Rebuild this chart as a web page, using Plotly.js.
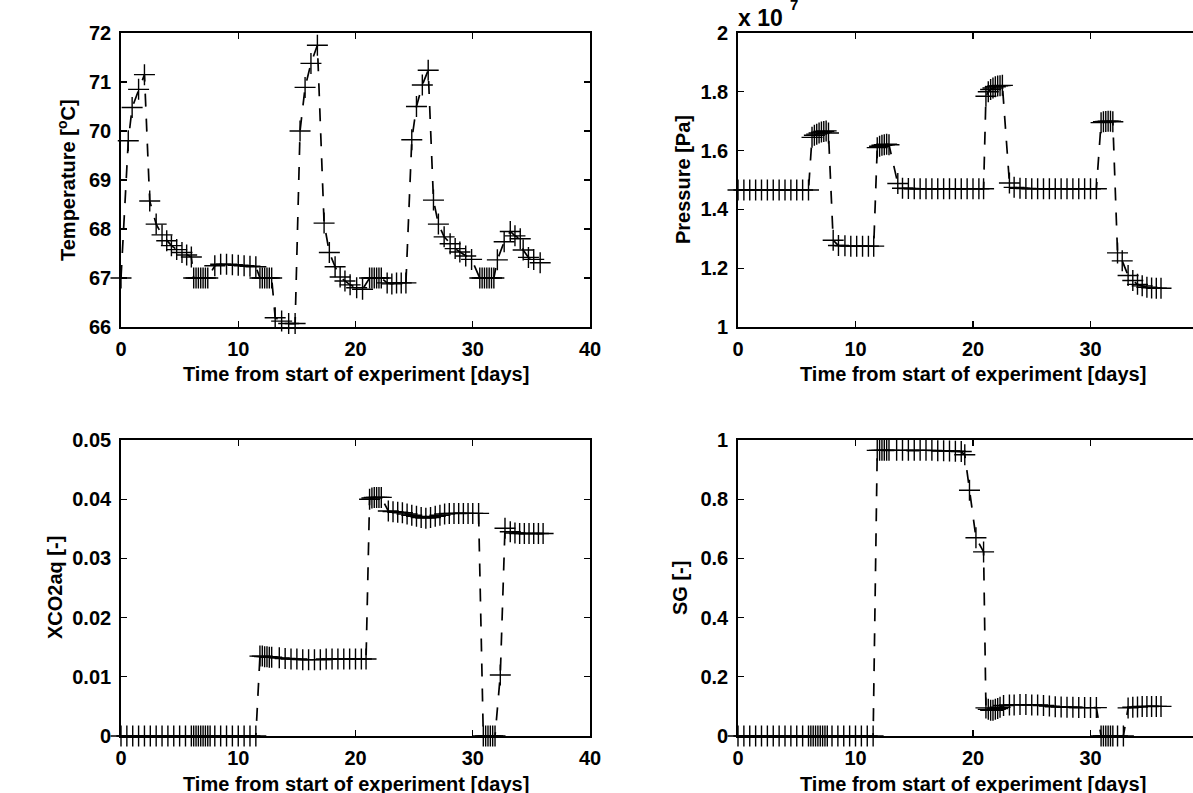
<!DOCTYPE html>
<html>
<head>
<meta charset="utf-8">
<script src="https://cdn.plot.ly/plotly-3.0.1.min.js"></script>
<style>
html, body { margin: 0; padding: 0; overflow: hidden; background: #fff; }
#plot { width: 1215px; height: 793px; }
</style>
</head>
<body>
<div id="plot"></div>
<script>
// ---------- Data ----------
// Panel 1: temperature [°C]
var tempTime = [0, 0.62, 0.95, 1.5, 2.0, 2.45, 3.0, 3.5, 3.9, 4.3, 4.75, 5.2, 5.6, 6.0,
  6.2, 6.4, 6.6, 6.8, 7.0, 7.2, 7.4,
  8.0, 8.5, 9.0, 9.5, 10.0, 10.5, 11.0, 11.5,
  11.85, 12.05, 12.25, 12.45, 12.65, 12.85,
  13.15, 13.7, 14.3, 14.85,
  15.27, 15.7, 16.2, 16.75,
  17.32, 17.77, 18.26, 18.69, 19.1, 19.54, 20.1, 20.6,
  21.2, 21.4, 21.6, 21.8, 22.0, 22.2,
  22.7, 23.1, 23.5, 23.9, 24.3,
  24.8, 25.2, 25.7, 26.2,
  26.65, 27.07, 27.56, 28.07, 28.5, 28.9, 29.4, 29.9,
  30.6, 30.8, 31.0, 31.2, 31.4, 31.6, 31.8,
  32.1, 32.68, 33.2, 33.6, 34.05, 34.3, 34.75, 35.2, 35.75];
var tempValue = [67.0, 69.8, 70.48, 70.85, 71.15, 68.57, 68.1, 67.88, 67.76, 67.66, 67.58, 67.52, 67.47, 67.43,
  67.0, 67.0, 67.0, 67.0, 67.0, 67.0, 67.0,
  67.25, 67.28, 67.28, 67.27, 67.26, 67.25, 67.24, 67.23,
  67.0, 67.0, 67.0, 67.0, 67.0, 67.0,
  66.19, 66.12, 66.07, 66.07,
  70.0, 70.89, 71.38, 71.75,
  68.12, 67.52, 67.23, 67.02, 66.94, 66.86, 66.8, 66.77,
  67.0, 67.0, 67.0, 67.0, 67.0, 67.0,
  66.9, 66.88, 66.9, 66.9, 66.9,
  69.82, 70.5, 70.94, 71.24,
  68.59, 68.1, 67.84, 67.7, 67.6, 67.53, 67.45, 67.38,
  67.0, 67.0, 67.0, 67.0, 67.0, 67.0, 67.0,
  67.37, 67.74, 67.95, 67.86, 67.8, 67.57, 67.42, 67.38, 67.31];

// Panel 2: pressure [Pa], in units of 1e7 Pa
var pressTime = [0, 0.5, 1.0, 1.5, 2.0, 2.5, 3.0, 3.5, 4.0, 4.5, 5.0, 5.5, 6.0,
  6.3, 6.5, 6.7, 6.9, 7.1, 7.3, 7.5, 7.7,
  8.1, 8.55, 9.1, 9.6, 10.1, 10.6, 11.1, 11.55,
  11.85, 12.05, 12.25, 12.45, 12.65, 12.85,
  13.6, 14.0, 14.5, 15.0, 15.5, 16.0, 16.5, 17.0, 17.5, 18.0, 18.5, 19.0, 19.5, 20.0, 20.5, 20.9,
  21.1, 21.3, 21.5, 21.7, 21.9, 22.1, 22.3, 22.5,
  23.1, 23.5, 24.0, 24.5, 25.0, 25.5, 26.0, 26.5, 27.0, 27.5, 28.0, 28.5, 29.0, 29.5, 30.0, 30.5,
  30.9, 31.1, 31.3, 31.5, 31.7, 31.9,
  32.3, 32.7, 33.2, 33.6, 34.0, 34.4, 34.8, 35.2, 35.6, 36.0];
var pressValue = [1.466, 1.466, 1.466, 1.466, 1.466, 1.466, 1.466, 1.466, 1.466, 1.466, 1.466, 1.466, 1.466,
  1.645, 1.652, 1.656, 1.66, 1.663, 1.665, 1.667, 1.66,
  1.295, 1.277, 1.276, 1.275, 1.275, 1.275, 1.275, 1.275,
  1.61, 1.615, 1.618, 1.62, 1.622, 1.62,
  1.488, 1.472, 1.471, 1.47, 1.47, 1.47, 1.47, 1.47, 1.47, 1.47, 1.47, 1.47, 1.47, 1.47, 1.47, 1.47,
  1.785, 1.8, 1.808, 1.813, 1.817, 1.82, 1.821, 1.822,
  1.49, 1.475, 1.472, 1.471, 1.47, 1.47, 1.47, 1.47, 1.47, 1.47, 1.47, 1.47, 1.47, 1.47, 1.47, 1.47,
  1.695, 1.698, 1.699, 1.7, 1.7, 1.698,
  1.252, 1.225, 1.175, 1.158, 1.145, 1.14, 1.135, 1.133, 1.132, 1.132];

// Panel 3: dissolved CO2 mole fraction XCO2aq [-]
var xco2Time = [0, 0.5, 1.0, 1.5, 2.0, 2.5, 3.0, 3.5, 4.0, 4.5, 5.0, 5.5, 6.0,
  6.2, 6.4, 6.6, 6.8, 7.0, 7.2, 7.4, 7.6,
  8.0, 8.5, 9.0, 9.5, 10.0, 10.5, 11.0, 11.5,
  11.85, 12.05, 12.25, 12.45, 12.65, 12.85,
  13.5, 14.0, 14.5, 15.0, 15.5, 16.0, 16.5, 17.0, 17.5, 18.0, 18.5, 19.0, 19.5, 20.0, 20.5, 20.9,
  21.2, 21.4, 21.6, 21.8, 22.0, 22.2,
  22.8, 23.2, 23.6, 24.0, 24.4, 24.8, 25.2, 25.6, 26.0, 26.4, 26.8, 27.2, 27.6, 28.0, 28.4, 28.8, 29.2, 29.6, 30.0, 30.5,
  30.9, 31.1, 31.3, 31.5, 31.7, 31.9,
  32.35, 32.75,
  33.2, 33.6, 34.0, 34.4, 34.8, 35.2, 35.6, 36.0];
var xco2Value = [0, 0, 0, 0, 0, 0, 0, 0, 0, 0, 0, 0, 0,
  0, 0, 0, 0, 0, 0, 0, 0,
  0, 0, 0, 0, 0, 0, 0, 0,
  0.0135, 0.0135, 0.0134, 0.0134, 0.0133, 0.0133,
  0.0132, 0.0131, 0.013, 0.013, 0.0129, 0.0129, 0.0129, 0.0129, 0.013, 0.013, 0.013, 0.013, 0.013, 0.013, 0.013, 0.013,
  0.04, 0.0402, 0.0403, 0.0403, 0.0403, 0.0403,
  0.038, 0.0379, 0.0378, 0.0377, 0.0375, 0.0373, 0.0371, 0.0369, 0.0368, 0.0369, 0.0371, 0.0373, 0.0375, 0.0376, 0.0376, 0.0376, 0.0376, 0.0376, 0.0376, 0.0376,
  0, 0, 0, 0, 0, 0,
  0.0103, 0.0351,
  0.0345, 0.0343, 0.0342, 0.0342, 0.0342, 0.0342, 0.0342, 0.0342];

// Panel 4: gas saturation SG [-]
var sgTime = [0, 0.5, 1.0, 1.5, 2.0, 2.5, 3.0, 3.5, 4.0, 4.5, 5.0, 5.5, 6.0,
  6.2, 6.4, 6.6, 6.8, 7.0, 7.2, 7.4, 7.6,
  8.0, 8.5, 9.0, 9.5, 10.0, 10.5, 11.0, 11.5,
  11.85, 12.05, 12.25, 12.45, 12.65, 12.85,
  13.5, 14.0, 14.5, 15.0, 15.5, 16.0, 16.5, 17.0, 17.5, 18.0, 18.5, 19.0,
  19.3, 19.7, 20.25, 20.9,
  21.1, 21.3, 21.5, 21.7, 21.9, 22.1, 22.3,
  22.6, 23.1, 23.5, 24.0, 24.5, 25.0, 25.5, 26.0, 26.5, 27.0, 27.5, 28.0, 28.5, 29.0, 29.5, 30.0, 30.5,
  30.9, 31.1, 31.3, 31.5, 31.7, 31.9, 32.3, 32.8,
  33.2, 33.6, 34.0, 34.4, 34.8, 35.2, 35.6, 36.0];
var sgValue = [0, 0, 0, 0, 0, 0, 0, 0, 0, 0, 0, 0, 0,
  0, 0, 0, 0, 0, 0, 0, 0,
  0, 0, 0, 0, 0, 0, 0, 0,
  0.965, 0.965, 0.965, 0.965, 0.965, 0.965,
  0.965, 0.965, 0.965, 0.965, 0.965, 0.965, 0.965, 0.964, 0.964, 0.963, 0.962, 0.961,
  0.95, 0.83, 0.67, 0.622,
  0.095, 0.09, 0.087, 0.087, 0.09, 0.093, 0.097,
  0.103, 0.105, 0.105, 0.106, 0.106, 0.105, 0.105, 0.103, 0.101, 0.099, 0.098, 0.097, 0.097, 0.096, 0.096, 0.096, 0.096,
  0, 0, 0, 0, 0, 0, 0, 0,
  0.095, 0.097, 0.098, 0.1, 0.1, 0.1, 0.1, 0.1];

// Axis texts
var xTitle = 'Time from start of experiment [days]';
var yTitles = ['Temperature [<sup>o</sup>C]', 'Pressure [Pa]', 'XCO2aq [-]', 'SG [-]'];
var pressExponentBase = 'x 10';
var pressExponentPower = '7';

// ---------- Layout geometry (pixels) ----------
var W = 1215, H = 793;
var colL = [121, 590], colR = [738, 1208];
var rowT = [33, 327], rowB = [440, 736];
function dx(a) { return [a[0] / W, a[1] / W]; }
function dy(a) { return [(H - a[1]) / H, (H - a[0]) / H]; }

var FONT = 'Liberation Sans, Arial, Helvetica, sans-serif';
var tickFont = {family: FONT, size: 20, color: '#000', weight: 'bold'};

function xax(dom, anchor) {
  return {domain: dx(dom), anchor: anchor, range: [0, 40], tickvals: [0, 10, 20, 30, 40],
    ticks: 'inside', ticklen: 6, tickwidth: 1.3, tickcolor: '#000', mirror: 'ticks',
    showline: true, linecolor: '#000', linewidth: 1.8, showgrid: false, zeroline: false,
    tickfont: tickFont, ticklabelstandoff: 3, automargin: false, fixedrange: true};
}
function yax(dom, anchor, range, dtick) {
  return {domain: dy(dom), anchor: anchor, range: range, dtick: dtick,
    ticks: 'inside', ticklen: 6, tickwidth: 1.3, tickcolor: '#000', mirror: 'ticks',
    showline: true, linecolor: '#000', linewidth: 1.8, showgrid: false, zeroline: false,
    tickfont: tickFont, ticklabelstandoff: 4, automargin: false, fixedrange: true};
}

function series(x, y, xa, ya) {
  return {x: x, y: y, xaxis: xa, yaxis: ya, type: 'scatter', mode: 'lines+markers',
    cliponaxis: false, showlegend: false, hoverinfo: 'skip',
    line: {color: '#000', width: 1.7, dash: '13px,12px'},
    marker: {symbol: 'cross-thin', size: 15, line: {color: '#000', width: 1.4}, color: '#000'}};
}

var data = [
  series(tempTime, tempValue, 'x', 'y'),
  series(pressTime, pressValue, 'x2', 'y2'),
  series(xco2Time, xco2Value, 'x3', 'y3'),
  series(sgTime, sgValue, 'x4', 'y4')
];

function ann(text, xpx, ypx, angle, xanchor, yanchor, size) {
  return {text: text, xref: 'paper', yref: 'paper', x: xpx / W, y: (H - ypx) / H,
    xanchor: xanchor || 'center', yanchor: yanchor || 'middle', textangle: angle || 0,
    showarrow: false, borderpad: 0,
    font: {family: FONT, size: size || 20, color: '#000', weight: 'bold'}};
}

var layout = {
  width: W, height: H,
  margin: {l: 0, r: 0, t: 0, b: 0, pad: 0},
  paper_bgcolor: '#fff', plot_bgcolor: '#fff',
  xaxis: xax(colL, 'y'), yaxis: yax(rowT, 'x', [66, 72], 1),
  xaxis2: xax(colR, 'y2'), yaxis2: yax(rowT, 'x2', [1, 2], 0.2),
  xaxis3: xax(colL, 'y3'), yaxis3: yax(rowB, 'x3', [0, 0.05], 0.01),
  xaxis4: xax(colR, 'y4'), yaxis4: yax(rowB, 'x4', [0, 1], 0.2),
  annotations: [
    ann(xTitle, (colL[0] + colL[1]) / 2, 374),
    ann(xTitle, (colR[0] + colR[1]) / 2, 374),
    ann(xTitle, (colL[0] + colL[1]) / 2, 784),
    ann(xTitle, (colR[0] + colR[1]) / 2, 784),
    ann(yTitles[0], 67, (rowT[0] + rowT[1]) / 2, -90),
    ann(yTitles[1], 683, (rowT[0] + rowT[1]) / 2, -90),
    ann(yTitles[2], 55, (rowB[0] + rowB[1]) / 2, -90),
    ann(yTitles[3], 680, (rowB[0] + rowB[1]) / 2, -90),
    ann(pressExponentBase, colR[0] - 1, 18, 0, 'left', 'middle', 23),
    ann(pressExponentPower, colR[0] + 51, 4, 0, 'left', 'middle', 15)
  ]
};

Plotly.newPlot('plot', data, layout, {staticPlot: true, displayModeBar: false});
</script>
</body>
</html>
